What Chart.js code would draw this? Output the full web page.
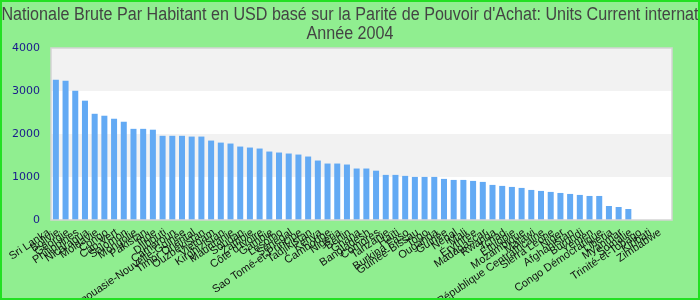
<!DOCTYPE html>
<html lang="fr">
<head>
<meta charset="utf-8">
<title>Rente Nationale Brute par habitant 2004</title>
<script src="https://cdn.jsdelivr.net/npm/chart.js@4.4.1/dist/chart.umd.min.js"></script>
<style>
  html, body { margin:0; padding:0; background:#90ee90; }
</style>
</head>
<body>
<canvas id="graph" width="700" height="300"></canvas>
<script>
var titre_ = ["Rente Nationale Brute Par Habitant en USD basé sur la Parité de Pouvoir d'Achat: Units Current international $", "Année 2004"];
var pays_ = ["Sri Lanka","Bolivie","Géorgie","Philippines","Nicaragua","Moldavie","Congo","Cap-Vert","Salomon","Mongolie",
  "Pakistan","Inde","Djibouti","Cameroun","Papouasie-Nouvelle-Guinée","Timor Oriental","Ouzbékistan","Vietnam","Kirghizistan","Mauritanie",
  "Soudan","Zambie","Côte d'Ivoire","Gambie","Lesotho","Sénégal","Sao Tomé-et-Principe","Tadjikistan","Kenya","Cambodge",
  "Nigeria","Bénin","Ghana","Bangladesh","Comores","Tanzanie","Haïti","Burkina Faso","Guinée-Bissau","Togo",
  "Ouganda","Guinée","Népal","Mali","Érythrée","Madagascar","Rwanda","Tchad","Éthiopie","Mozambique",
  "Malawi","République Centrafricaine","Sierra Leone","Niger","Afghanistan","Burundi","Yémen","Congo Démocratique","Liberia","Myanmar",
  "Somalie","Trinité-et-Tobago","Kiribati","Zimbabwe"];
var valeurs_ = [3260,3240,3005,2775,2470,2425,2355,2285,2120,2120,
  2100,1958,1958,1958,1940,1940,1847,1800,1778,1708,
  1685,1662,1592,1569,1546,1522,1476,1383,1313,1313,
  1290,1197,1197,1147,1049,1049,1026,1002,1002,1002,
  956,932,932,909,886,816,793,769,746,699,
  676,653,629,606,583,559,559,326,303,256,
  null,null,null,null];
var yTicks_ = [0,1000,2000,3000,4000];

var fond = {
  id: "fond",
  beforeDraw: function(chart){
    var ctx = chart.ctx, a = chart.chartArea, y = chart.scales.y;
    ctx.save();
    ctx.fillStyle = "#90ee90";
    ctx.fillRect(0,0,chart.width,chart.height);
    for (var i = 0; i < yTicks_.length-1; i++) {
      var y0 = y.getPixelForValue(yTicks_[i]), y1 = y.getPixelForValue(yTicks_[i+1]);
      ctx.fillStyle = (i % 2 == 1) ? "#f2f2f2" : "#ffffff";
      ctx.fillRect(a.left, y1, a.right-a.left, y0-y1);
    }
    ctx.restore();
  },
  afterDraw: function(chart){
    var ctx = chart.ctx, a = chart.chartArea;
    ctx.save();
    ctx.strokeStyle = "#d4d4d4";
    ctx.lineWidth = 1.5;
    ctx.strokeRect(a.left, a.top, a.right-a.left, a.bottom-a.top);
    // title: narrow look, Liberation Sans squeezed
    ctx.fillStyle = "#444444";
    ctx.font = '18px "Liberation Sans"';
    ctx.textAlign = "center";
    ctx.translate(chart.width/2, 0);
    ctx.scale(0.895, 1);
    ctx.fillText(titre_[0], 0, 20);
    ctx.fillText(titre_[1], 0, 39);
    ctx.setTransform(1,0,0,1,0,0);
    ctx.strokeStyle = "#22e022";
    ctx.lineWidth = 2;
    ctx.strokeRect(1,1,chart.width-2,chart.height-2);
    ctx.restore();
  }
};

new Chart(document.getElementById("graph"), {
  type: "bar",
  data: {
    labels: pays_,
    datasets: [{
      data: valeurs_,
      backgroundColor: "#63aaf4",
      categoryPercentage: 1,
      barPercentage: 0.62
    }]
  },
  options: {
    responsive: false,
    animation: false,
    layout: { padding: { top: 48, right: 28, left: 0, bottom: 0 } },
    plugins: { legend: { display: false }, tooltip: { enabled: false } },
    scales: {
      x: {
        grid: { display: false, drawTicks: false },
        border: { display: false },
        ticks: { autoSkip: false, minRotation: 34, maxRotation: 34, padding: 6, labelOffset: -7, color: "#111",
          font: { family: "Liberation Sans", size: 11 } },
        afterFit: function(s){ s.height = 80; }
      },
      y: {
        min: 0, max: 4000,
        grid: { display: false, drawTicks: false },
        border: { display: false },
        ticks: { stepSize: 1000, padding: 11, color: "#1a1a8c",
          font: { family: "DejaVu Sans", size: 11 },
          callback: function(v){ return String(v); } },
        afterFit: function(s){ s.width = 51; }
      }
    }
  },
  plugins: [fond]
});
</script>
</body>
</html>
